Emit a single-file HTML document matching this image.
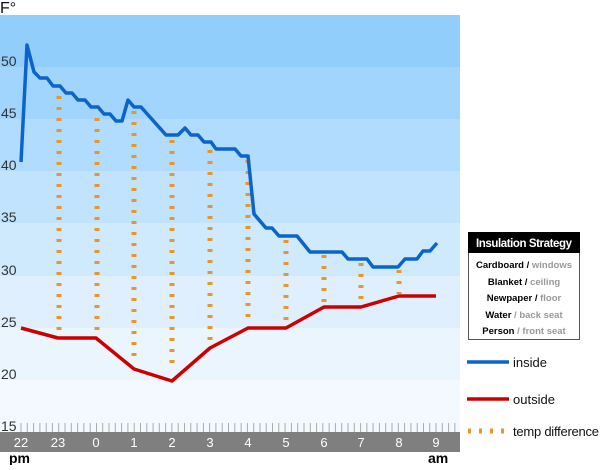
<!DOCTYPE html><html><head><style>body{margin:0;background:#fff;width:600px;height:465px;overflow:hidden;font-family:"Liberation Sans",Arial,sans-serif}</style></head><body>
<svg width="600" height="465" xmlns="http://www.w3.org/2000/svg" font-family="Liberation Sans, Arial, sans-serif">
<rect x="0" y="15" width="460" height="52" fill="#92cefc"/>
<rect x="0" y="67" width="460" height="52" fill="#a1d5fd"/>
<rect x="0" y="119" width="460" height="52" fill="#b1dcfe"/>
<rect x="0" y="171" width="460" height="52" fill="#c1e3fd"/>
<rect x="0" y="223" width="460" height="53" fill="#d0eafd"/>
<rect x="0" y="276" width="460" height="52" fill="#dfeffd"/>
<rect x="0" y="328" width="460" height="52" fill="#eaf5fe"/>
<rect x="0" y="380" width="460" height="52" fill="#f3f9fe"/>
<rect x="0" y="432" width="460" height="20" fill="#7f7f7f"/>
<g stroke="#aaa" stroke-width="1" id="ticks"></g>
<g font-size="14" fill="#333">
<text x="0" y="13" font-size="16" fill="#111">F°</text>
<text x="1" y="66">50</text><text x="1" y="118">45</text><text x="1" y="170">40</text><text x="1" y="222">35</text><text x="1" y="275">30</text><text x="1" y="327">25</text><text x="1" y="379">20</text><text x="1" y="431">15</text>
</g>
<g font-size="13" fill="#fff" text-anchor="middle">
<text x="21" y="447">22</text><text x="58" y="447">23</text><text x="96" y="447">0</text><text x="134" y="447">1</text><text x="172" y="447">2</text><text x="210" y="447">3</text><text x="248" y="447">4</text><text x="286" y="447">5</text><text x="324" y="447">6</text><text x="361" y="447">7</text><text x="399" y="447">8</text><text x="436" y="447">9</text>
</g>
<text x="9" y="463" font-size="14" font-weight="bold">pm</text>
<text x="428" y="463" font-size="14" font-weight="bold">am</text>
<g stroke="#e8962a" stroke-width="5" stroke-dasharray="3 8" fill="none">
<path d="M59 96V333M97 118V333M134 111V360M172 140V365M210 150V340M248 160V322M286 240V322M324 255V306M361 263V306M399 270V294"/>
</g>
<polyline fill="none" stroke="#cc0000" stroke-width="3.5" stroke-linejoin="round" points="21,328 58,338 96,338 134,369 172,381 210,348 248,328 286,328 324,307 361,307 399,296 436,296"/>
<polyline fill="none" stroke="#0a64cc" stroke-width="3.5" stroke-linejoin="round" points="21,162 27,45 34,72 40,78 47,78 53,86 60,86 66,93 72,93 78,100 85,100 91,107 98,107 104,114 110,114 116,121 122,121 128,100 134,107 141,107 166,135 178,135 185,128 191,135 198,135 204,142 211,142 216,149 235,149 241,156 248,156 254,214 266,228 272,228 279,236 297,236 310,252 342,252 348,259 367,259 373,267 398,267 405,259 417,259 423,251 430,251 437,243"/>
<rect x="468.5" y="232.5" width="111" height="107" fill="#fff" stroke="#555"/>
<rect x="468" y="232" width="112" height="21" fill="#000"/>
<text x="524" y="247" font-size="11.5" font-weight="bold" fill="#fff" text-anchor="middle" textLength="96">Insulation Strategy</text>
<g font-size="9.5" font-weight="bold" text-anchor="middle">
<text x="524" y="268">Cardboard / <tspan fill="#999">windows</tspan></text>
<text x="524" y="285">Blanket / <tspan fill="#999">ceiling</tspan></text>
<text x="524" y="301">Newpaper / <tspan fill="#999">floor</tspan></text>
<text x="524" y="318">Water <tspan fill="#999">/ back seat</tspan></text>
<text x="524" y="334">Person <tspan fill="#999">/ front seat</tspan></text>
</g>
<line x1="467" y1="362" x2="509" y2="362" stroke="#0a64cc" stroke-width="3.5"/>
<line x1="467" y1="399" x2="509" y2="399" stroke="#cc0000" stroke-width="3.5"/>
<line x1="468" y1="431" x2="510" y2="431" stroke="#e8962a" stroke-width="5" stroke-dasharray="3 8"/>
<g font-size="13" fill="#111"><text x="513" y="367">inside</text><text x="513" y="404">outside</text><text x="513" y="436" textLength="86">temp difference</text></g>
</svg>
<script>
var g=document.getElementById('ticks'),s='';
for(var x=21;x<458;x+=37.73/6){s+='<line x1="'+x.toFixed(1)+'" y1="423" x2="'+x.toFixed(1)+'" y2="432"/>';}
g.innerHTML=s;
</script>
</body></html>
